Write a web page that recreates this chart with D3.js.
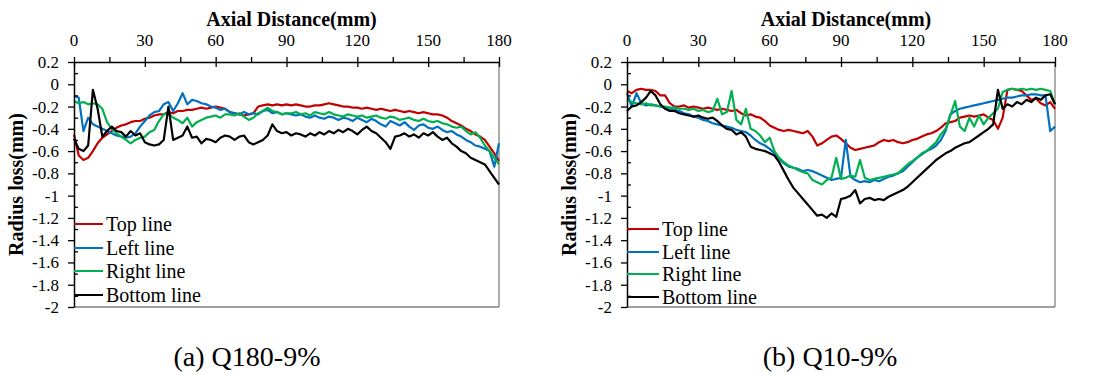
<!DOCTYPE html>
<html>
<head>
<meta charset="utf-8">
<script src="https://cdn.jsdelivr.net/npm/d3@7"></script>
<style>
  body { margin: 0; background: #fff; }
</style>
</head>
<body>
<svg id="chart" width="1096" height="373"></svg>
<script>
// sampling grid (mm), shared by every series
const distance = [0,2,4,6,8,10,12,14,16,18,20,22,24,26,28,30,32,34,36,38,40,42,44,46,48,50,52,54,56,58,60,62,64,66,68,70,72,74,76,78,80,82,84,86,88,90,92,94,96,98,100,102,104,106,108,110,112,114,116,118,120,122,124,126,128,130,132,134,136,138,140,142,144,146,148,150,152,154,156,158,160,162,164,166,168,170,172,174,176,178,180];

// (a) Q180-9%
const q180Top = [-0.45,-0.64,-0.68,-0.66,-0.6,-0.53,-0.48,-0.45,-0.42,-0.39,-0.37,-0.36,-0.34,-0.33,-0.33,-0.31,-0.3,-0.28,-0.27,-0.27,-0.25,-0.26,-0.24,-0.24,-0.23,-0.23,-0.22,-0.21,-0.22,-0.21,-0.2,-0.21,-0.22,-0.25,-0.26,-0.27,-0.28,-0.27,-0.26,-0.2,-0.19,-0.18,-0.19,-0.18,-0.19,-0.18,-0.19,-0.18,-0.19,-0.2,-0.2,-0.19,-0.19,-0.18,-0.17,-0.18,-0.19,-0.2,-0.2,-0.21,-0.21,-0.22,-0.21,-0.22,-0.23,-0.22,-0.23,-0.24,-0.23,-0.24,-0.25,-0.24,-0.25,-0.26,-0.25,-0.26,-0.27,-0.27,-0.28,-0.3,-0.33,-0.35,-0.37,-0.4,-0.42,-0.45,-0.47,-0.5,-0.56,-0.62,-0.69];
const q180Left = [-0.1,-0.12,-0.42,-0.3,-0.36,-0.38,-0.4,-0.42,-0.44,-0.46,-0.47,-0.48,-0.47,-0.44,-0.38,-0.33,-0.28,-0.25,-0.24,-0.18,-0.16,-0.24,-0.17,-0.08,-0.18,-0.14,-0.15,-0.17,-0.18,-0.2,-0.21,-0.23,-0.22,-0.25,-0.26,-0.27,-0.25,-0.27,-0.26,-0.27,-0.24,-0.23,-0.26,-0.25,-0.27,-0.26,-0.27,-0.28,-0.27,-0.29,-0.3,-0.28,-0.3,-0.31,-0.29,-0.3,-0.32,-0.3,-0.31,-0.33,-0.3,-0.32,-0.34,-0.31,-0.33,-0.36,-0.38,-0.33,-0.35,-0.37,-0.34,-0.38,-0.41,-0.37,-0.36,-0.39,-0.4,-0.38,-0.41,-0.43,-0.42,-0.45,-0.47,-0.5,-0.52,-0.55,-0.56,-0.58,-0.6,-0.74,-0.53];
const q180Right = [-0.15,-0.17,-0.16,-0.18,-0.17,-0.18,-0.22,-0.34,-0.4,-0.44,-0.47,-0.5,-0.53,-0.5,-0.48,-0.47,-0.43,-0.41,-0.33,-0.27,-0.26,-0.3,-0.32,-0.35,-0.3,-0.38,-0.34,-0.32,-0.3,-0.29,-0.28,-0.3,-0.27,-0.27,-0.28,-0.26,-0.29,-0.32,-0.3,-0.26,-0.24,-0.21,-0.24,-0.25,-0.27,-0.26,-0.26,-0.25,-0.27,-0.26,-0.28,-0.25,-0.26,-0.27,-0.25,-0.27,-0.28,-0.29,-0.27,-0.28,-0.29,-0.28,-0.3,-0.29,-0.28,-0.3,-0.31,-0.29,-0.3,-0.32,-0.31,-0.3,-0.32,-0.33,-0.31,-0.33,-0.34,-0.33,-0.35,-0.36,-0.38,-0.39,-0.38,-0.42,-0.45,-0.43,-0.48,-0.55,-0.6,-0.66,-0.72];
const q180Bottom = [-0.49,-0.58,-0.6,-0.55,-0.05,-0.22,-0.47,-0.42,-0.38,-0.42,-0.43,-0.47,-0.42,-0.46,-0.44,-0.52,-0.54,-0.55,-0.54,-0.5,-0.2,-0.5,-0.48,-0.46,-0.38,-0.48,-0.47,-0.53,-0.49,-0.5,-0.52,-0.48,-0.46,-0.47,-0.5,-0.47,-0.46,-0.52,-0.54,-0.52,-0.5,-0.46,-0.36,-0.42,-0.44,-0.43,-0.46,-0.44,-0.45,-0.47,-0.44,-0.46,-0.43,-0.45,-0.42,-0.44,-0.41,-0.43,-0.4,-0.42,-0.45,-0.41,-0.38,-0.42,-0.44,-0.48,-0.52,-0.58,-0.47,-0.46,-0.44,-0.47,-0.45,-0.48,-0.44,-0.46,-0.43,-0.47,-0.5,-0.48,-0.53,-0.56,-0.6,-0.62,-0.66,-0.68,-0.7,-0.72,-0.78,-0.84,-0.9];

// (b) Q10-9%
const q10Top = [-0.06,-0.08,-0.05,-0.04,-0.05,-0.05,-0.06,-0.1,-0.1,-0.17,-0.2,-0.2,-0.19,-0.21,-0.2,-0.21,-0.22,-0.21,-0.22,-0.23,-0.22,-0.23,-0.24,-0.23,-0.26,-0.28,-0.27,-0.29,-0.3,-0.33,-0.37,-0.39,-0.41,-0.42,-0.41,-0.42,-0.43,-0.44,-0.42,-0.47,-0.55,-0.53,-0.5,-0.47,-0.46,-0.49,-0.53,-0.57,-0.59,-0.58,-0.57,-0.56,-0.55,-0.52,-0.5,-0.51,-0.5,-0.52,-0.53,-0.52,-0.5,-0.49,-0.47,-0.45,-0.44,-0.42,-0.39,-0.35,-0.34,-0.33,-0.3,-0.29,-0.28,-0.29,-0.28,-0.27,-0.3,-0.32,-0.4,-0.3,-0.05,-0.04,-0.05,-0.06,-0.1,-0.14,-0.13,-0.17,-0.19,-0.16,-0.22];
const q10Left = [-0.08,-0.2,-0.08,-0.17,-0.19,-0.18,-0.19,-0.2,-0.21,-0.22,-0.23,-0.24,-0.26,-0.27,-0.29,-0.3,-0.32,-0.33,-0.35,-0.36,-0.37,-0.38,-0.39,-0.41,-0.42,-0.43,-0.46,-0.5,-0.53,-0.55,-0.58,-0.62,-0.67,-0.71,-0.74,-0.75,-0.76,-0.78,-0.77,-0.78,-0.8,-0.82,-0.84,-0.86,-0.85,-0.84,-0.5,-0.83,-0.86,-0.88,-0.87,-0.88,-0.86,-0.87,-0.85,-0.83,-0.82,-0.8,-0.78,-0.74,-0.7,-0.66,-0.63,-0.6,-0.58,-0.55,-0.5,-0.42,-0.27,-0.24,-0.22,-0.21,-0.2,-0.19,-0.18,-0.17,-0.16,-0.15,-0.14,-0.13,-0.12,-0.12,-0.11,-0.1,-0.1,-0.09,-0.09,-0.1,-0.1,-0.42,-0.38];
const q10Right = [-0.14,-0.16,-0.17,-0.18,-0.17,-0.19,-0.19,-0.2,-0.2,-0.21,-0.21,-0.22,-0.22,-0.23,-0.22,-0.24,-0.23,-0.25,-0.24,-0.13,-0.27,-0.25,-0.06,-0.32,-0.36,-0.22,-0.4,-0.42,-0.46,-0.52,-0.48,-0.6,-0.66,-0.7,-0.73,-0.75,-0.77,-0.79,-0.8,-0.86,-0.88,-0.9,-0.86,-0.84,-0.66,-0.85,-0.84,-0.82,-0.83,-0.68,-0.84,-0.86,-0.85,-0.84,-0.83,-0.82,-0.81,-0.8,-0.76,-0.72,-0.69,-0.66,-0.62,-0.6,-0.56,-0.52,-0.45,-0.4,-0.28,-0.15,-0.38,-0.42,-0.3,-0.38,-0.28,-0.36,-0.3,-0.26,-0.22,-0.07,-0.05,-0.04,-0.05,-0.04,-0.05,-0.04,-0.05,-0.04,-0.05,-0.06,-0.18];
const q10Bottom = [-0.24,-0.2,-0.19,-0.16,-0.12,-0.06,-0.1,-0.18,-0.22,-0.24,-0.24,-0.26,-0.27,-0.28,-0.29,-0.28,-0.3,-0.31,-0.3,-0.33,-0.37,-0.4,-0.41,-0.45,-0.43,-0.47,-0.56,-0.58,-0.59,-0.6,-0.62,-0.64,-0.7,-0.78,-0.86,-0.93,-0.98,-1.03,-1.08,-1.13,-1.18,-1.17,-1.2,-1.16,-1.19,-1.03,-1.02,-1.0,-0.95,-1.07,-1.03,-1.02,-1.04,-1.03,-1.04,-1.01,-0.99,-0.97,-0.95,-0.92,-0.88,-0.84,-0.8,-0.76,-0.72,-0.68,-0.65,-0.62,-0.6,-0.57,-0.55,-0.53,-0.52,-0.49,-0.46,-0.43,-0.4,-0.36,-0.05,-0.22,-0.18,-0.2,-0.16,-0.18,-0.14,-0.16,-0.12,-0.14,-0.1,-0.09,-0.18];

const seriesNames = ["Top line", "Left line", "Right line", "Bottom line"];
const seriesColors = ["#C00000", "#0070C0", "#00B050", "#000000"];
const xMajor = [0, 30, 60, 90, 120, 150, 180];
const xMinor = [15, 45, 75, 105, 135, 165];
const yMajor = [0.2, 0, -0.2, -0.4, -0.6, -0.8, -1, -1.2, -1.4, -1.6, -1.8, -2];
const yMinor = [0.1, -0.1, -0.3, -0.5, -0.7, -0.9, -1.1, -1.3, -1.5, -1.7, -1.9];

const svg = d3.select("#chart");

// plain text helper, serif face set on every label
function label(parent, txt, size, bold) {
    return parent.append("text")
        .attr("font-family", "Liberation Serif")
        .style("font-family", "'Liberation Serif', 'Times New Roman', serif")
        .attr("font-size", size + "px")
        .attr("font-weight", bold ? "bold" : "normal")
        .attr("fill", "#000")
        .text(txt);
}

function drawPanel(p) {
    const g = svg.append("g");
    const x = d3.scaleLinear().domain([0, 180]).range([p.left, p.right]);
    const y = d3.scaleLinear().domain([-2, 0.2]).range([307, 62]);

    // gray frame on right and bottom
    g.append("line").attr("x1", p.right).attr("x2", p.right).attr("y1", y(0.2)).attr("y2", y(-2))
        .attr("stroke", "#808080").attr("stroke-width", 1.3);
    g.append("line").attr("x1", p.left).attr("x2", p.right).attr("y1", y(-2)).attr("y2", y(-2))
        .attr("stroke", "#808080").attr("stroke-width", 1.3);

    // lines
    const line = d3.line().x((d, i) => x(distance[i])).y(d => y(d));
    p.series.forEach((s, k) => {
        g.append("path")
            .datum(s)
            .attr("fill", "none")
            .attr("stroke", seriesColors[k])
            .attr("stroke-width", 2.2)
            .attr("stroke-linejoin", "round")
            .attr("d", line);
    });

    // top x axis: ticks from d3, labels written with the serif face
    const xAxis = g.append("g").attr("transform", `translate(0,${y(0.2)})`)
        .call(d3.axisTop(x).tickValues(xMajor).tickSize(5).tickSizeOuter(0).tickFormat(""));
    xAxis.selectAll(".tick line").attr("y1", 5).attr("stroke-width", 1.3);
    xAxis.select(".domain").attr("stroke-width", 1.5);
    const xMin = g.append("g").attr("transform", `translate(0,${y(0.2)})`)
        .call(d3.axisTop(x).tickValues(xMinor).tickSize(5).tickFormat(""));
    xMin.select(".domain").remove();
    xMin.selectAll(".tick line").attr("stroke-width", 1.3);
    xMajor.forEach(v => {
        label(g, String(v), 17, false)
            .attr("x", x(v)).attr("y", y(0.2) - 16)
            .attr("text-anchor", "middle");
    });

    // left y axis
    const yAxis = g.append("g").attr("transform", `translate(${p.left},0)`)
        .call(d3.axisLeft(y).tickValues(yMajor).tickSize(6).tickSizeOuter(0).tickFormat(""));
    yAxis.selectAll(".tick line").attr("stroke-width", 1.3);
    yAxis.select(".domain").attr("stroke-width", 1.5);
    const yMin = g.append("g").attr("transform", `translate(${p.left},0)`)
        .call(d3.axisRight(y).tickValues(yMinor).tickSize(4).tickFormat(""));
    yMin.select(".domain").remove();
    yMin.selectAll(".tick line").attr("stroke-width", 1.3);
    yMajor.forEach(v => {
        label(g, String(+v.toFixed(1)), 17, false)
            .attr("x", p.left - 15).attr("y", y(v) + 6)
            .attr("text-anchor", "end");
    });

    // titles
    label(g, "Axial Distance(mm)", 20, true)
        .attr("x", (p.left + p.right) / 2 + 5)
        .attr("y", 26)
        .attr("text-anchor", "middle");
    label(g, "Radius loss(mm)", 20, true)
        .attr("transform", `translate(${p.left - 51},${(62 + 307) / 2}) rotate(-90)`)
        .attr("text-anchor", "middle");

    // legend
    seriesNames.forEach((name, k) => {
        const ly = p.legendY[k];
        g.append("line")
            .attr("x1", p.left).attr("x2", p.left + p.legendLen)
            .attr("y1", ly).attr("y2", ly)
            .attr("stroke", seriesColors[k]).attr("stroke-width", 2);
        label(g, name, 20, false)
            .attr("x", p.left + p.legendLen + 3)
            .attr("y", ly + 7);
    });

    // caption
    label(g, p.caption, 28, false)
        .attr("x", p.captionX)
        .attr("y", 366)
        .attr("text-anchor", "middle");
}

drawPanel({
    left: 74, right: 499,
    series: [q180Top, q180Left, q180Right, q180Bottom],
    legendY: [224, 248, 271, 295], legendLen: 29,
    caption: "(a) Q180-9%", captionX: 247
});
drawPanel({
    left: 627, right: 1055,
    series: [q10Top, q10Left, q10Right, q10Bottom],
    legendY: [229, 252, 274, 297], legendLen: 32,
    caption: "(b) Q10-9%", captionX: 830
});
</script>
</body>
</html>
